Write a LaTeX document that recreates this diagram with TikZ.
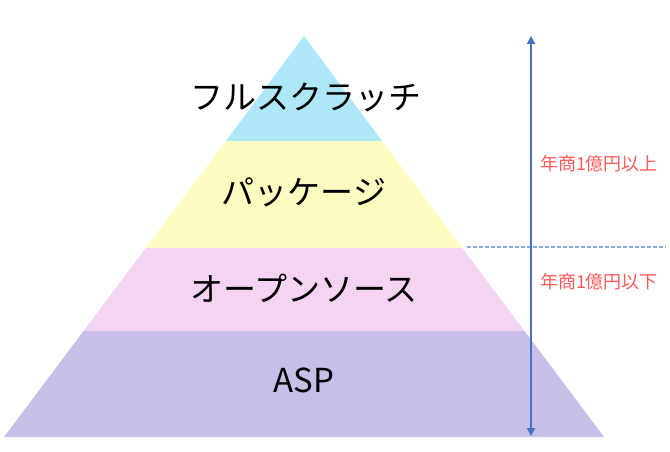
\documentclass[tikz,border=0pt]{standalone}
\usepackage{fontspec}
\setmainfont{Noto Sans CJK JP}
\usetikzlibrary{arrows.meta}
\definecolor{lblue}{HTML}{AEE8F8}
\definecolor{lyellow}{HTML}{FCFCC0}
\definecolor{lpink}{HTML}{F5D3F2}
\definecolor{lpurple}{HTML}{C7BFE7}
\definecolor{arrblue}{HTML}{4472C4}
\definecolor{dashblue}{HTML}{8FAADC}
\definecolor{redtxt}{HTML}{FF5B5B}
\tikzset{
  bigtxt/.style={font=\fontsize{33}{36}\selectfont, text=black, inner sep=0pt},
  redlabel/.style={font=\fontsize{18}{20}\selectfont, text=redtxt, inner sep=0pt},
}
\begin{document}
\begin{tikzpicture}[x=1pt,y=-1pt]
\useasboundingbox (0,0) rectangle (670,452);
\fill[lblue] (304,36) -- (226,141) -- (382,141) -- cycle;
\fill[lyellow] (226,141) -- (382,141) -- (462.25,248) -- (145.75,248) -- cycle;
\fill[lpink] (145.75,248) -- (462.25,248) -- (524.5,331) -- (83.5,331) -- cycle;
\fill[lpurple] (83.5,331) -- (524.5,331) -- (604,437) -- (4,437) -- cycle;
\node[bigtxt] (t1) at (306,97) {フルスクラッチ};
\node[bigtxt] (t2) at (304,192) {パッケージ};
\node[bigtxt] (t3) at (304,288) {オープンソース};
\node[bigtxt] (t4) at (304,380) {ASP};
\coordinate (dashL) at (467,247);
\coordinate (dashR) at (666,247);
\draw[dashblue, line width=1.4pt, dash pattern=on 3.5pt off 2.5pt] (dashL) -- (dashR);
\coordinate (atop) at (531,36);
\coordinate (abot) at (531,436);
\draw[arrblue, line width=1.8pt, {Triangle[length=8pt,width=8pt]}-{Triangle[length=8pt,width=8pt]}] (atop) -- (abot);
\node[redlabel] (r1) at (599,164) {年商1億円以上};
\node[redlabel] (r2) at (599,282) {年商1億円以下};
\end{tikzpicture}
\end{document}
